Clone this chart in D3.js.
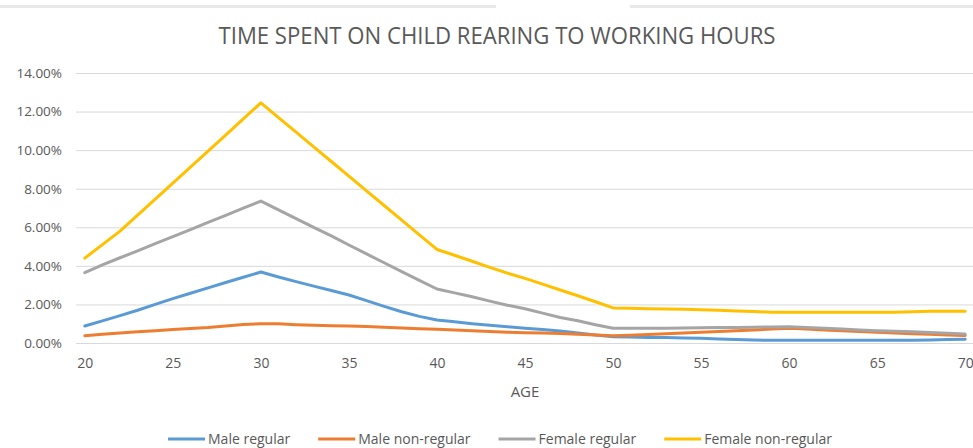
<!DOCTYPE html>
<html>
<head>
  <meta charset="utf-8"/>
  <title>Time spent on child rearing</title>
  <script src="https://d3js.org/d3.v7.min.js"></script>
  <style>
    body { margin: 0; background: #fff; }
    text { font-family: "Open Sans", sans-serif; fill: #595959; }
  </style>
</head>
<body>
<div id="chart"></div>
<script>
// ages on the category axis
var ages = d3.range(20, 71);
var xTicks = [20, 25, 30, 35, 40, 45, 50, 55, 60, 65, 70];
var yTicks = [0, 2, 4, 6, 8, 10, 12, 14];
var seriesNames = ["Male regular", "Male non-regular", "Female regular", "Female non-regular"];
var colors = ["#5b9bd5", "#ed7d31", "#a5a5a5", "#ffc000"];

// values in percent, one per age 20..70
var maleRegular = [0.88, 1.15, 1.42, 1.70, 2.00, 2.30, 2.58, 2.86, 3.14, 3.41,
  3.68, 3.42, 3.18, 2.95, 2.72, 2.49, 2.20, 1.90, 1.62, 1.38,
  1.19, 1.10, 1.00, 0.92, 0.84, 0.77, 0.70, 0.62, 0.52, 0.42,
  0.33, 0.31, 0.29, 0.28, 0.26, 0.24, 0.21, 0.18, 0.15, 0.14,
  0.14, 0.14, 0.14, 0.14, 0.14, 0.14, 0.14, 0.14, 0.16, 0.18, 0.19];
var maleNonRegular = [0.38, 0.45, 0.52, 0.58, 0.63, 0.70, 0.75, 0.80, 0.88, 0.96,
  1.00, 1.00, 0.95, 0.92, 0.90, 0.88, 0.85, 0.82, 0.78, 0.74,
  0.71, 0.68, 0.64, 0.60, 0.56, 0.53, 0.52, 0.49, 0.46, 0.42,
  0.37, 0.40, 0.44, 0.48, 0.52, 0.56, 0.60, 0.64, 0.68, 0.72,
  0.76, 0.72, 0.68, 0.64, 0.60, 0.56, 0.52, 0.48, 0.45, 0.42, 0.39];
var femaleRegular = [3.65, 4.05, 4.42, 4.78, 5.15, 5.52, 5.88, 6.25, 6.62, 6.99,
  7.36, 6.90, 6.45, 6.00, 5.55, 5.08, 4.62, 4.16, 3.70, 3.25,
  2.80, 2.60, 2.40, 2.17, 1.96, 1.78, 1.55, 1.32, 1.15, 0.95,
  0.76, 0.76, 0.76, 0.77, 0.78, 0.79, 0.80, 0.81, 0.82, 0.83,
  0.84, 0.80, 0.76, 0.72, 0.68, 0.64, 0.61, 0.58, 0.54, 0.50, 0.47];
var femaleNonRegular = [4.40, 5.10, 5.80, 6.63, 7.46, 8.29, 9.12, 9.95, 10.78, 11.62,
  12.45, 11.69, 10.93, 10.17, 9.41, 8.65, 7.89, 7.13, 6.37, 5.61,
  4.85, 4.55, 4.24, 3.92, 3.62, 3.35, 3.05, 2.75, 2.45, 2.14,
  1.82, 1.80, 1.78, 1.76, 1.75, 1.73, 1.70, 1.66, 1.63, 1.60,
  1.60, 1.59, 1.59, 1.59, 1.59, 1.59, 1.59, 1.62, 1.64, 1.64, 1.64];

var series = [maleRegular, maleNonRegular, femaleRegular, femaleNonRegular];

var width = 973, height = 448;
var margin = {top: 73, right: -1, bottom: 105, left: 76};

var svg = d3.select("#chart").append("svg")
  .attr("width", width)
  .attr("height", height);

// faint bar at the very top of the screenshot
svg.append("rect").attr("x", 0).attr("y", 5).attr("width", 496).attr("height", 3).attr("fill", "#e8e8e8");
svg.append("rect").attr("x", 630).attr("y", 5).attr("width", 343).attr("height", 3).attr("fill", "#e8e8e8");

// category axis: each age gets one slot, points sit in the middle of it
var x = d3.scaleLinear()
  .domain([19.5, 70.5])
  .range([margin.left, width - margin.right]);

var y = d3.scaleLinear()
  .domain([0, 14])
  .range([height - margin.bottom, margin.top]);

// gridlines
var yAxis = d3.axisLeft(y)
  .tickValues(yTicks)
  .tickSize(-(x.range()[1] - x.range()[0]))
  .tickPadding(14)
  .tickFormat(function(d) { return d.toFixed(2) + "%"; });

var gy = svg.append("g")
  .attr("transform", "translate(" + margin.left + ",0)")
  .call(yAxis);
gy.select(".domain").remove();
gy.selectAll(".tick line").attr("stroke", "#d9d9d9").attr("stroke-width", 1);
gy.selectAll(".tick text")
  .style("font-size", "13.5px")
  .attr("fill", "#595959");

var xAxis = d3.axisBottom(x)
  .tickValues(xTicks)
  .tickSize(0)
  .tickPadding(15)
  .tickFormat(d3.format("d"));

var gx = svg.append("g")
  .attr("transform", "translate(0," + y(0) + ")")
  .call(xAxis);
gx.select(".domain").remove();
gx.selectAll(".tick text")
  .style("font-size", "14px")
  .attr("fill", "#595959");

// lines
var line = d3.line()
  .x(function(d, i) { return x(ages[i]); })
  .y(function(d) { return y(d); });

svg.selectAll(".series")
  .data(series)
  .enter()
  .append("path")
  .attr("class", "series")
  .attr("d", line)
  .attr("fill", "none")
  .attr("stroke", function(d, i) { return colors[i]; })
  .attr("stroke-width", 3)
  .attr("stroke-linejoin", "round")
  .attr("stroke-linecap", "round");

// title
svg.append("text")
  .attr("x", 497)
  .attr("y", 44)
  .attr("text-anchor", "middle")
  .attr("textLength", 557)
  .attr("lengthAdjust", "spacingAndGlyphs")
  .style("font-size", "23px")
  .text("TIME SPENT ON CHILD REARING TO WORKING HOURS");

// axis title
svg.append("text")
  .attr("x", (x.range()[0] + x.range()[1]) / 2)
  .attr("y", 397)
  .attr("text-anchor", "middle")
  .style("font-size", "15px")
  .text("AGE");

// legend
var legend = svg.append("g").attr("transform", "translate(0,439)");
var items = legend.selectAll(".item")
  .data(seriesNames)
  .enter()
  .append("g")
  .attr("class", "item");

items.append("line")
  .attr("x1", 0).attr("x2", 37)
  .attr("y1", 0).attr("y2", 0)
  .attr("stroke", function(d, i) { return colors[i]; })
  .attr("stroke-width", 3);

items.append("text")
  .attr("x", 40)
  .attr("y", 5)
  .style("font-size", "14px")
  .text(function(d) { return d; });

// lay the items out side by side and center them
var pos = 0, starts = [];
items.each(function() {
  starts.push(pos);
  pos += 40 + d3.select(this).select("text").node().getComputedTextLength() + 28;
});
var total = pos - 28;
var left = 500 - total / 2;
items.attr("transform", function(d, i) { return "translate(" + (left + starts[i]) + ",0)"; });
</script>
</body>
</html>
